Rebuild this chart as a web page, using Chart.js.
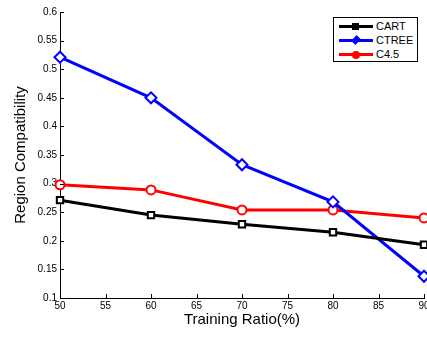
<!DOCTYPE html>
<html>
<head>
<meta charset="utf-8">
<script src="https://cdn.jsdelivr.net/npm/chart.js@4/dist/chart.umd.min.js"></script>
<style>
html,body{margin:0;padding:0;background:#fff;}
#wrap{position:relative;width:427px;height:340px;overflow:hidden;}
#box{position:absolute;left:0;top:0;width:460px;height:340px;}
#legend{position:absolute;left:333px;top:17px;width:83px;height:43px;border:1px solid #000;background:#fff;
  font-family:"Liberation Sans",Arial,sans-serif;font-size:11px;color:#000;}
.row{position:absolute;left:0;height:14px;width:83px;}
.ln{position:absolute;left:5px;top:6px;width:34px;height:3px;}
.mk{position:absolute;}
.tx{position:absolute;left:42px;top:0;line-height:14px;}
</style>
</head>
<body>
<div id="wrap">
  <div id="box"><canvas id="c" width="460" height="340"></canvas></div>
  <div id="legend"></div>
</div>
<script>
const ratios = [50, 60, 70, 80, 90];
const cart  = [0.271, 0.245, 0.229, 0.215, 0.193];
const ctree = [0.521, 0.450, 0.333, 0.268, 0.138];
const c45   = [0.298, 0.289, 0.254, 0.254, 0.240];
const seriesNames = ['CART', 'CTREE', 'C4.5'];
const seriesColors = ['#000000', '#0000ff', '#ff0000'];
const seriesMarkers = ['rect', 'rectRot', 'circle'];
const xTicks = [50, 55, 60, 65, 70, 75, 80, 85, 90];
const yTicks = [0.1, 0.15, 0.2, 0.25, 0.3, 0.35, 0.4, 0.45, 0.5, 0.55, 0.6];

const FONT = '"Liberation Sans", Arial, Helvetica, sans-serif';
const allSeries = [cart, ctree, c45];

const datasets = allSeries.map((vals, i) => ({
  label: seriesNames[i],
  data: ratios.map((x, j) => ({x: x, y: vals[j]})),
  borderColor: seriesColors[i],
  backgroundColor: seriesColors[i],
  borderWidth: 3,
  pointStyle: seriesMarkers[i],
  pointRadius: seriesMarkers[i] === 'rectRot' ? 5.5 : 4.5,
  pointBorderWidth: 2,
  pointBorderColor: seriesColors[i],
  pointBackgroundColor: '#ffffff',
  tension: 0,
  clip: false
}));

const inwardTicks = {
  id: 'inwardTicks',
  afterDatasetsDraw(chart) {
    const ctx = chart.ctx;
    const xs = chart.scales.x, ys = chart.scales.y;
    ctx.save();
    ctx.strokeStyle = '#000';
    ctx.lineWidth = 1;
    ctx.beginPath();
    xTicks.forEach(v => {
      const px = Math.round(xs.getPixelForValue(v)) + 0.5;
      ctx.moveTo(px, ys.bottom);
      ctx.lineTo(px, ys.bottom - 4);
    });
    yTicks.forEach(v => {
      const py = Math.round(ys.getPixelForValue(v)) + 0.5;
      ctx.moveTo(xs.left, py);
      ctx.lineTo(xs.left + 4, py);
    });
    ctx.stroke();
    ctx.restore();
  }
};

new Chart(document.getElementById('c'), {
  type: 'line',
  data: { datasets },
  options: {
    responsive: false,
    animation: false,
    layout: { padding: { top: 12, right: 36, left: 0, bottom: 0 } },
    plugins: { legend: { display: false }, tooltip: { enabled: false } },
    scales: {
      x: {
        type: 'linear',
        min: 50, max: 90,
        afterBuildTicks: s => { s.ticks = xTicks.map(v => ({value: v})); },
        afterFit: s => { s.height = 42; },
        grid: { display: false, drawTicks: false },
        border: { display: true, color: '#000', width: 1 },
        ticks: { color: '#000', font: { family: FONT, size: 10 }, padding: 2, maxRotation: 0, autoSkip: false },
        title: { display: true, text: 'Training Ratio(%)', color: '#000', font: { family: FONT, size: 15 }, padding: { top: 0, bottom: 11 } }
      },
      y: {
        type: 'linear',
        min: 0.1, max: 0.6,
        afterBuildTicks: s => { s.ticks = yTicks.map(v => ({value: v})); },
        afterFit: s => { s.width = 60; },
        grid: { display: false, drawTicks: false },
        border: { display: true, color: '#000', width: 1 },
        ticks: { color: '#000', font: { family: FONT, size: 10 }, padding: 3, autoSkip: false,
          callback: v => String(Math.round(v * 100) / 100) },
        title: { display: true, text: 'Region Compatibility', color: '#000', font: { family: FONT, size: 15 }, padding: { top: 12, bottom: 0 } }
      }
    }
  },
  plugins: [inwardTicks]
});

// HTML legend
const leg = document.getElementById('legend');
seriesNames.forEach((name, i) => {
  const row = document.createElement('div');
  row.className = 'row';
  row.style.top = (1 + i * 14) + 'px';
  const ln = document.createElement('div');
  ln.className = 'ln';
  ln.style.background = seriesColors[i];
  row.appendChild(ln);
  const mk = document.createElement('div');
  mk.className = 'mk';
  mk.style.background = seriesColors[i];
  if (seriesMarkers[i] === 'rect') {
    mk.style.left = '18px'; mk.style.top = '4px'; mk.style.width = '7px'; mk.style.height = '7px';
  } else if (seriesMarkers[i] === 'rectRot') {
    mk.style.left = '19px'; mk.style.top = '4px'; mk.style.width = '6px'; mk.style.height = '6px';
    mk.style.transform = 'rotate(45deg) scale(1,1.3)';
  } else {
    mk.style.left = '18px'; mk.style.top = '4px'; mk.style.width = '8px'; mk.style.height = '8px';
    mk.style.borderRadius = '50%';
  }
  row.appendChild(mk);
  const tx = document.createElement('div');
  tx.className = 'tx';
  tx.textContent = name;
  row.appendChild(tx);
  leg.appendChild(row);
});
</script>
</body>
</html>
